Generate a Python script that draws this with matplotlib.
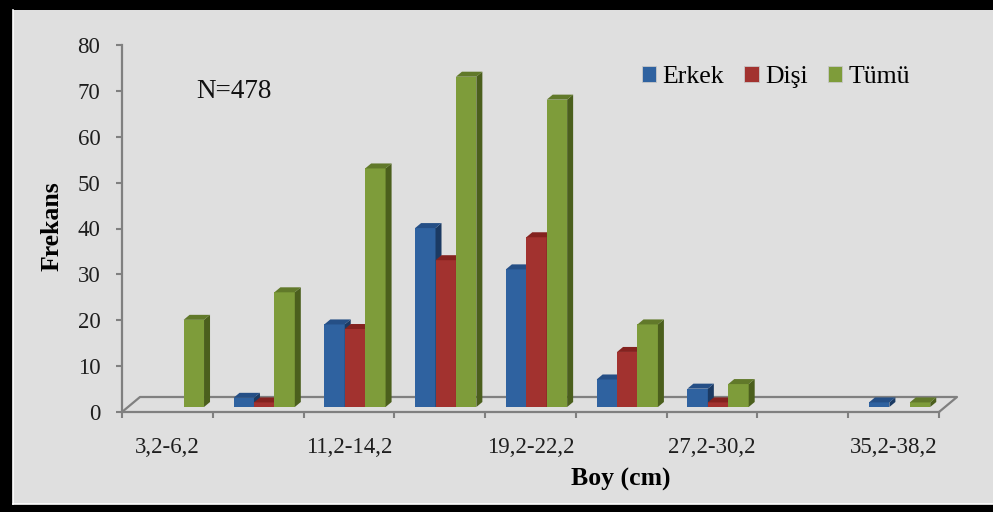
import matplotlib
matplotlib.use("Agg")
import matplotlib.pyplot as plt
from matplotlib.patches import Rectangle, Polygon, Patch
from matplotlib.lines import Line2D

# Length classes (cm) and frequencies per group
categories = ["3,2-6,2", "7,2-10,2", "11,2-14,2", "15,2-18,2", "19,2-22,2",
              "23,2-26,2", "27,2-30,2", "31,2-34,2", "35,2-38,2"]
erkek = [0, 2, 18, 39, 30, 6, 4, 0, 1]
disi = [0, 1, 17, 32, 37, 12, 1, 0, 0]
tumu = [19, 25, 52, 72, 67, 18, 5, 0, 1]
series_names = ["Erkek", "Dişi", "Tümü"]
y_ticks = [0, 10, 20, 30, 40, 50, 60, 70, 80]
sample_note = "N=478"

plt.rcParams["font.family"] = ["Liberation Serif", "DejaVu Serif"]

# face colours: front, side, top
palette = [
    ("#2f62a0", "#1b3a63", "#254f86"),
    ("#a2322f", "#6b1d1b", "#84221f"),
    ("#7e9c3a", "#4b5f1d", "#61792a"),
]

W, H = 993, 512
fig = plt.figure(figsize=(W / 100, H / 100), dpi=100)
fig.patch.set_facecolor("black")


def fx(px):
    return px / W


def fy(py):
    return 1 - py / H


# chart area
fig.patches.append(Rectangle((fx(13), fy(504)), fx(993) - fx(13), fy(10) - fy(504),
                             transform=fig.transFigure, facecolor="#dfdfdf",
                             edgecolor="none", zorder=-10))
fig.lines.append(Line2D([fx(13), fx(13)], [fy(504), fy(10)], transform=fig.transFigure,
                        color="white", lw=1.2, zorder=-9))
fig.lines.append(Line2D([fx(13), fx(993)], [fy(504), fy(504)], transform=fig.transFigure,
                        color="white", lw=1.2, zorder=-9))

ax = fig.add_axes([fx(122), fy(412), fx(939) - fx(122), fy(45) - fy(412)])
ax.patch.set_visible(False)
n = len(categories)
ax.set_xlim(0, n)
ax.set_ylim(0, 80)

# oblique depth of the floor, in data units
px_x = (939 - 122) / n
px_y = (412 - 45) / 80
depth_x = 18 / px_x
depth_y = 15 / px_y

axis_grey = "#808080"
# floor outline (front edge is the x spine)
ax.plot([0, depth_x, n + depth_x, n], [0, depth_y, depth_y, 0],
        color=axis_grey, lw=1.6, clip_on=False, zorder=1)

# bars sit in the middle third of the depth
ox, oy = depth_x / 3, depth_y / 3
ddx, ddy = depth_x / 3, depth_y / 3
bw = 0.225
offsets = [-bw, 0, bw]

for i in range(n):
    centre = i + 0.5
    for s, vals in enumerate([erkek, disi, tumu]):
        v = vals[i]
        if v <= 0:
            continue
        front, side, top = palette[s]
        x0 = centre + offsets[s] - bw / 2 + ox
        z = 3 + i * 3 + s
        ax.bar(x0, v, width=bw, bottom=oy, align="edge", color=front,
               edgecolor="none", clip_on=False, zorder=z)
        ax.add_patch(Polygon([(x0 + bw, oy), (x0 + bw, oy + v),
                              (x0 + bw + ddx, oy + v + ddy), (x0 + bw + ddx, oy + ddy)],
                             closed=True, facecolor=side, edgecolor="none",
                             clip_on=False, zorder=z))
        ax.add_patch(Polygon([(x0, oy + v), (x0 + bw, oy + v),
                              (x0 + bw + ddx, oy + v + ddy), (x0 + ddx, oy + v + ddy)],
                             closed=True, facecolor=top, edgecolor="none",
                             clip_on=False, zorder=z))

# spines and ticks
for side_name in ("top", "right"):
    ax.spines[side_name].set_visible(False)
for side_name in ("left", "bottom"):
    ax.spines[side_name].set_color(axis_grey)
    ax.spines[side_name].set_linewidth(1.6)
    ax.spines[side_name].set_zorder(2)

ax.set_yticks(y_ticks)
ax.set_yticklabels([str(t) for t in y_ticks])
ax.tick_params(axis="y", direction="out", length=4.5, width=1.5, color=axis_grey,
               labelsize=16.5, labelcolor="#1e1e1e", pad=11)

ax.set_xticks(range(n + 1))
ax.set_xticklabels([])
ax.tick_params(axis="x", which="major", direction="out", length=4.5, width=1.5,
               color=axis_grey)
ax.set_xticks([i + 0.5 for i in range(0, n, 2)], minor=True)
ax.set_xticklabels(categories[::2], minor=True)
ax.tick_params(axis="x", which="minor", length=0, labelsize=16.5, labelcolor="#1e1e1e",
               pad=18)

# axis titles and note
fig.text(fx(52), fy(226), "Frekans", rotation=90, ha="center", va="center",
         fontsize=18.5, fontweight="bold", color="black")
fig.text(fx(621), fy(479), "Boy (cm)", ha="center", va="center",
         fontsize=18.5, fontweight="bold", color="black")
fig.text(fx(196), fy(91), sample_note, ha="left", va="center", fontsize=19.5,
         color="#111111")

handles = [Patch(facecolor=palette[k][0], edgecolor="#c8c8c8", linewidth=0.6)
           for k in range(3)]
fig.legend(handles, series_names, loc="center", bbox_to_anchor=(fx(776), fy(77)),
           ncol=3, frameon=False, fontsize=18.5, handlelength=0.55, handleheight=0.55,
           handletextpad=0.25, columnspacing=0.8, borderpad=0, borderaxespad=0)

fig.savefig("out.png", dpi=100, facecolor=fig.get_facecolor())
